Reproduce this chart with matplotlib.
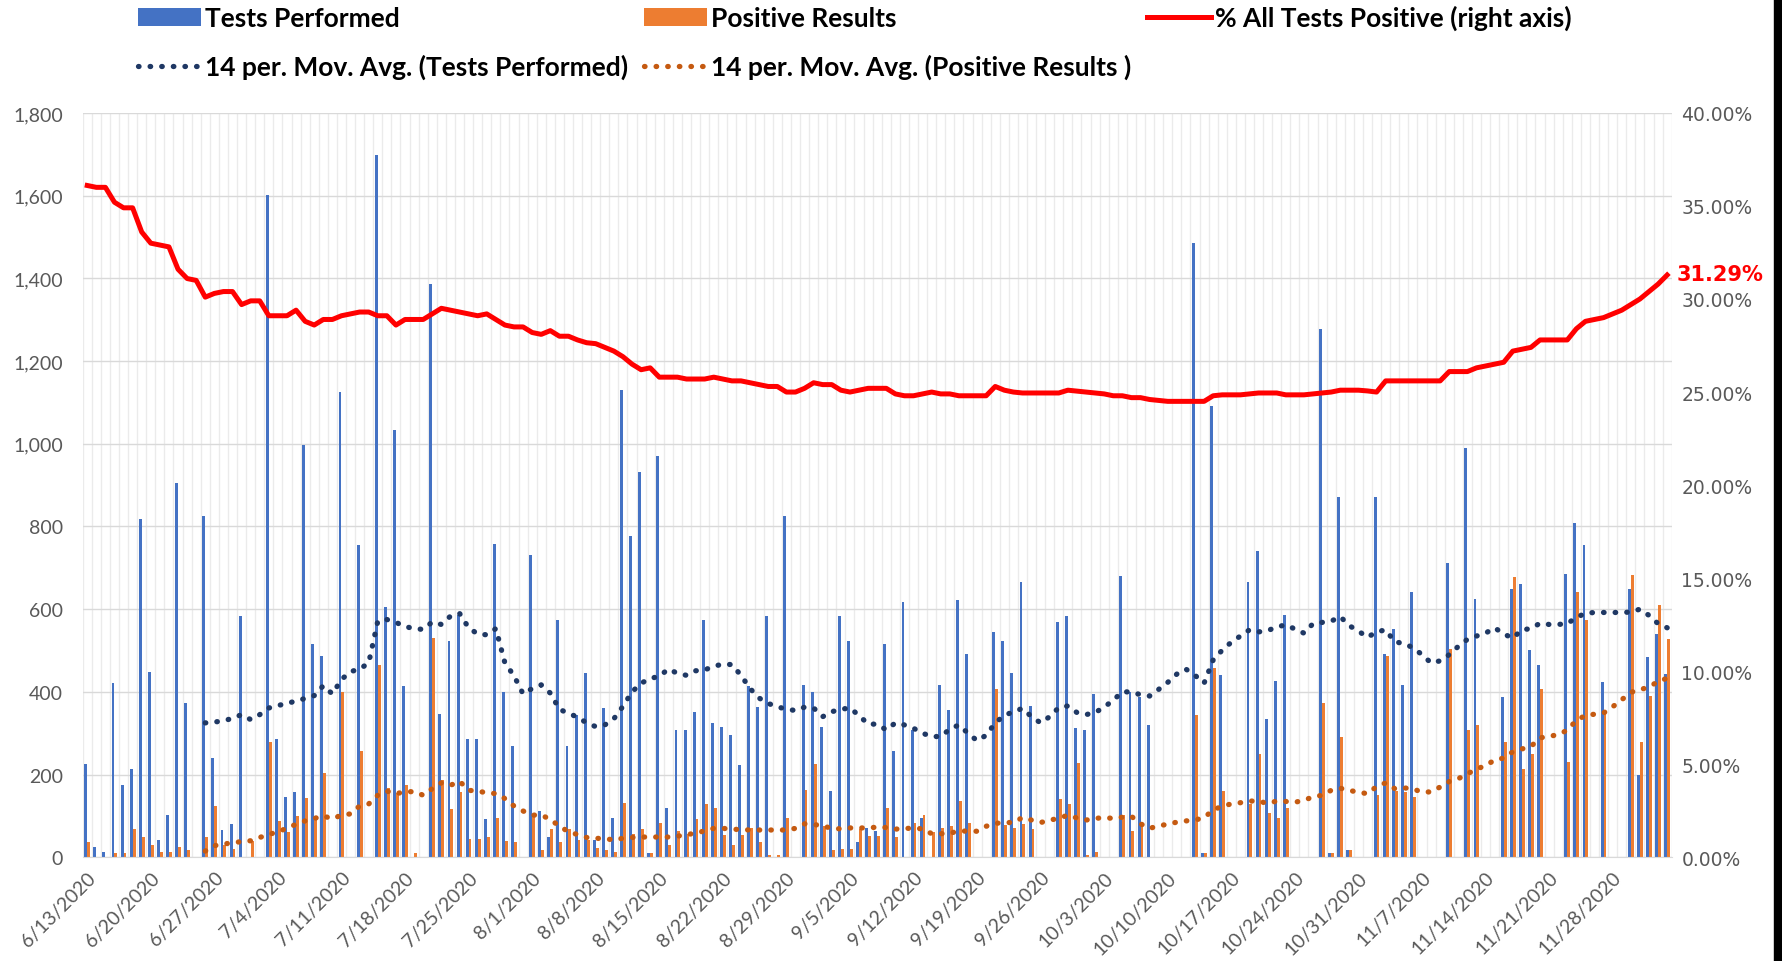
import matplotlib
matplotlib.use("Agg")

import datetime as dt
import numpy as np
import matplotlib.pyplot as plt
from matplotlib.patches import Rectangle
from matplotlib.ticker import FuncFormatter, MultipleLocator

plt.rcParams["font.family"] = ["Lato", "DejaVu Sans"]

nan = float("nan")

# daily values from 6/13/2020, one row per week (nan = no data that day)
tests = [
    225, 24, 12, 421, 174, 213, 818,
    449, 41, 102, 904, 374, nan, 826,
    240, 65, 80, 583, 0, nan, 1602,
    287, 147, 159, 998, 515, 487, nan,
    1124, nan, 754, nan, 1699, 605, 1034,
    414, 0, nan, 1387, 346, 523, 586,
    287, 287, 93, 758, 399, 268, nan,
    731, 112, 48, 575, 268, 345, 445,
    42, 360, 94, 1130, 778, 932, 10,
    970, 120, 309, 309, 352, 575, 325,
    316, 295, 222, 415, 364, 583, 0,
    826, nan, 417, 399, 315, 160, 583,
    523, 38, 72, 64, 515, 256, 617,
    307, 96, 0, 417, 355, 622, 492,
    nan, nan, 544, 523, 445, 665, 367,
    nan, nan, 568, 583, 313, 309, 394,
    nan, nan, 680, 400, 387, 321, nan,
    nan, nan, nan, 1485, 10, 1092, 441,
    nan, nan, 665, 740, 334, 427, 587,
    nan, nan, nan, 1277, 10, 872, 18,
    nan, nan, 872, 491, 551, 417, 641,
    nan, nan, nan, 712, nan, 990, 625,
    nan, nan, 387, 649, 661, 501, 465,
    nan, nan, 685, 809, 754, nan, 425,
    nan, nan, 649, 198, 485, 539, 443,
]

positives = [
    36, 0, 0, 10, 10, 69, 48,
    30, 12, 12, 25, 17, nan, 48,
    124, 30, 20, 0, 40, nan, 279,
    88, 60, 100, 143, 100, 204, nan,
    400, nan, 256, nan, 465, 168, 156,
    174, 10, nan, 531, 186, 117, 159,
    45, 45, 48, 96, 40, 36, nan,
    102, 18, 69, 36, 69, 42, 42,
    22, 18, 12, 132, 57, 69, 10,
    84, 30, 64, 57, 93, 129, 120,
    54, 30, 54, 72, 36, 5, 5,
    94, nan, 162, 226, 76, 18, 20,
    20, 69, 52, 52, 120, 48, 0,
    84, 102, 60, 72, 76, 136, 84,
    nan, nan, 406, 78, 72, 81, 69,
    nan, nan, 142, 129, 229, 5, 12,
    nan, nan, 102, 63, 78, 0, nan,
    nan, nan, nan, 343, 10, 457, 160,
    nan, nan, 129, 249, 108, 96, 120,
    nan, nan, nan, 373, 10, 292, 18,
    nan, nan, 150, 487, 160, 159, 147,
    nan, nan, nan, 503, nan, 307, 321,
    nan, nan, 280, 677, 213, 249, 406,
    nan, nan, 231, 641, 575, nan, 349,
    nan, nan, 683, 279, 391, 611, 527,
]

pct_positive = [
    36.1, 36.0, 36.0, 35.2, 34.9, 34.9, 33.6,
    33.0, 32.9, 32.8, 31.6, 31.1, 31.0, 30.1,
    30.3, 30.4, 30.4, 29.7, 29.9, 29.9, 29.1,
    29.1, 29.1, 29.4, 28.8, 28.6, 28.9, 28.9,
    29.1, 29.2, 29.3, 29.3, 29.1, 29.1, 28.6,
    28.9, 28.9, 28.9, 29.2, 29.5, 29.4, 29.3,
    29.2, 29.1, 29.2, 28.9, 28.6, 28.5, 28.5,
    28.2, 28.1, 28.3, 28.0, 28.0, 27.8, 27.65,
    27.6, 27.4, 27.2, 26.9, 26.5, 26.2, 26.3,
    25.8, 25.8, 25.8, 25.7, 25.7, 25.7, 25.8,
    25.7, 25.6, 25.6, 25.5, 25.4, 25.3, 25.3,
    25.0, 25.0, 25.2, 25.5, 25.4, 25.4, 25.1,
    25.0, 25.1, 25.2, 25.2, 25.2, 24.9, 24.8,
    24.8, 24.9, 25.0, 24.9, 24.9, 24.8, 24.8,
    24.8, 24.8, 25.3, 25.1, 25.0, 24.95, 24.95,
    24.95, 24.95, 24.95, 25.1, 25.05, 25.0, 24.95,
    24.9, 24.8, 24.8, 24.7, 24.7, 24.6, 24.55,
    24.5, 24.5, 24.5, 24.5, 24.5, 24.8, 24.85,
    24.85, 24.85, 24.9, 24.95, 24.95, 24.95, 24.85,
    24.85, 24.85, 24.9, 24.95, 25.0, 25.1, 25.1,
    25.1, 25.06, 25.0, 25.6, 25.6, 25.6, 25.6,
    25.6, 25.6, 25.6, 26.1, 26.1, 26.1, 26.3,
    26.4, 26.5, 26.6, 27.2, 27.3, 27.4, 27.8,
    27.8, 27.8, 27.8, 28.4, 28.8, 28.9, 29.0,
    29.2, 29.4, 29.7, 30.0, 30.4, 30.8, 31.29,
]

# 14 per. moving average trendlines, first point on day 13 (6/26)
ma_start = 13
ma_tests = [
    325, 327, 330, 336, 345, 333, 345,
    361, 367, 372, 378, 384, 391, 415,
    395, 430, 449, 455, 470, 571, 575,
    568, 558, 553, 551, 569, 563, 583,
    590, 555, 540, 538, 553, 470, 439,
    395, 408, 417, 397, 358, 348, 339,
    325, 316, 320, 335, 365, 400, 421,
    432, 438, 455, 445, 440, 451, 453,
    462, 467, 466, 440, 408, 385, 372,
    364, 358, 355, 363, 361, 340, 352,
    358, 361, 343, 322, 322, 308, 325,
    320, 312, 300, 292, 292, 310, 320,
    300, 282, 295, 325, 343, 352, 360,
    340, 325, 340, 362, 366, 350, 345,
    350, 363, 380, 400, 400, 393, 390,
    406, 423, 443, 455, 440, 421, 477,
    501, 520, 535, 550, 545, 548, 557,
    562, 552, 542, 565, 568, 571, 582,
    560, 547, 532, 545, 550, 521, 517,
    507, 490, 470, 475, 490, 510, 527,
    535, 542, 555, 540, 530, 550, 553,
    566, 563, 563, 565, 580, 590, 592,
    592, 592, 592, 593, 600, 585, 565,
    555,
]
ma_positives = [
    15, 28, 32, 35, 38, 40, 48,
    55, 62, 70, 80, 88, 94, 100,
    93, 102, 105, 124, 129, 150, 160,
    154, 158, 159, 150, 166, 180, 174,
    184, 162, 160, 156, 154, 142, 124,
    112, 102, 102, 92, 75, 62, 55,
    48, 46, 45, 42, 46, 48, 49,
    49, 49, 49, 51, 55, 58, 64,
    70, 70, 68, 67, 66, 66, 66,
    66, 66, 70, 81, 79, 77, 69,
    69, 71, 71, 71, 73, 72, 68,
    70, 70, 69, 57, 57, 58, 64,
    63, 63, 75, 82, 84, 84, 96,
    90, 84, 90, 94, 102, 95, 90,
    94, 96, 94, 97, 99, 81, 70,
    76, 80, 85, 88, 90, 96, 114,
    124, 129, 132, 136, 136, 130, 136,
    135, 133, 138, 146, 150, 162, 167,
    162, 157, 154, 171, 180, 166, 168,
    165, 158, 158, 170, 183, 190, 202,
    213, 222, 235, 240, 255, 262, 268,
    289, 292, 297, 307, 331, 343, 346,
    349, 364, 381, 399, 405, 412, 425,
    433,
]

n = len(tests)
dates = [dt.date(2020, 6, 13) + dt.timedelta(days=i) for i in range(n)]
date_labels = [f"{d.month}/{d.day}/{d.year}" for d in dates]

x = np.arange(n)
x_ma = np.arange(ma_start, ma_start + len(ma_tests))

blue = "#4472C4"
orange = "#ED7D31"
grey_text = "#595959"

fig = plt.figure(figsize=(17.82, 9.62), dpi=100)
ax = fig.add_axes([0.0464, 0.1078, 0.8917, 0.7738])

b1 = ax.bar(x - 0.16, np.array(tests, float), width=0.32, color=blue, zorder=2)
b2 = ax.bar(x + 0.16, np.array(positives, float), width=0.32, color=orange, zorder=2)

dot_style = dict(linestyle=(0, (0.1, 2.1)), dash_capstyle="round", linewidth=3.8, zorder=3)
l_ma1, = ax.plot(x_ma, ma_tests, color="#1F3864", **dot_style)
l_ma2, = ax.plot(x_ma, ma_positives, color="#C55A11", **dot_style)

ax.set_xlim(-0.5, n - 0.5)
ax.set_ylim(0, 1800)
ax.yaxis.set_major_locator(MultipleLocator(200))
ax.yaxis.set_major_formatter(FuncFormatter(lambda v, p: f"{v:,.0f}"))
ax.set_xticks(range(0, n, 7))
ax.set_xticklabels(date_labels[::7], rotation=45, ha="right", rotation_mode="anchor")
ax.set_xticks(np.arange(-0.5, n, 1), minor=True)
ax.grid(axis="y", color="#d9d9d9", linewidth=1, zorder=0)
ax.grid(axis="x", which="minor", color="#ebebeb", linewidth=1, zorder=0)
ax.set_axisbelow(True)
ax.tick_params(axis="y", length=0, pad=14, labelsize=14, labelcolor=grey_text)
ax.tick_params(axis="x", which="both", length=0, pad=8, labelsize=14, labelcolor=grey_text)
for s in ["top", "left", "right"]:
    ax.spines[s].set_visible(False)
ax.spines["bottom"].set_color("#d9d9d9")

ax2 = ax.twinx()
l_pct, = ax2.plot(x, pct_positive, color="#FF0000", linewidth=3.6, zorder=4)
ax2.set_ylim(0, 40)
ax2.yaxis.set_major_locator(MultipleLocator(5))
ax2.yaxis.set_major_formatter(FuncFormatter(lambda v, p: f"{v:.2f}%"))
ax2.tick_params(axis="y", length=0, pad=7, labelsize=13.5, labelcolor=grey_text)
for lab in ax2.get_yticklabels():
    lab.set_family("DejaVu Sans")
for s in ["top", "left", "right", "bottom"]:
    ax2.spines[s].set_visible(False)

ax2.annotate(f"{pct_positive[-1]:.2f}%", xy=(n - 1, pct_positive[-1]), xytext=(7, 1),
             textcoords="offset points", color="#FF0000", fontweight="bold",
             fontsize=15, va="center", ha="left", family="DejaVu Sans")

handles = [b1, l_ma1, b2, l_ma2, l_pct]
names = ["Tests Performed", "14 per. Mov. Avg. (Tests Performed)",
         "Positive Results", "14 per. Mov. Avg. (Positive Results )",
         "% All Tests Positive (right axis)"]
fig.legend(handles, names, ncol=3, loc="upper left", bbox_to_anchor=(0.067, 1.013),
           frameon=False, prop={"family": ["Lato", "DejaVu Sans"], "weight": "bold", "size": 19},
           handlelength=2.4, handletextpad=0.15, columnspacing=0.6, labelspacing=0.9,
           borderpad=0.2)

# dark strip at the right edge of the screenshot
fig.add_artist(Rectangle((1774 / 1782, 0), 8 / 1782, 1, transform=fig.transFigure,
                         color="black", zorder=10))

fig.savefig("out.png", dpi=100)
plt.close(fig)
